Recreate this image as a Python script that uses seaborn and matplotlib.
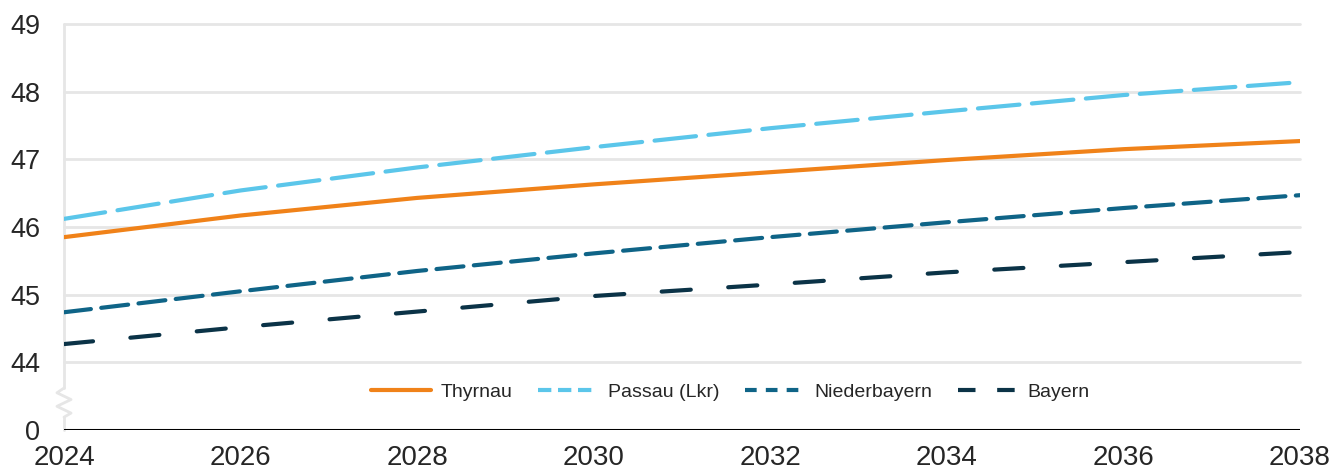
import matplotlib
matplotlib.use('Agg')
import matplotlib.pyplot as plt
import pandas as pd
import seaborn as sns
import numpy as np

# Data
years = [2024, 2026, 2028, 2030, 2032, 2034, 2036, 2038]
thyrnau = [45.85, 46.17, 46.43, 46.63, 46.81, 46.99, 47.15, 47.27]
passau = [46.12, 46.54, 46.88, 47.18, 47.46, 47.71, 47.95, 48.14]
niederbayern = [44.74, 45.05, 45.35, 45.61, 45.85, 46.07, 46.28, 46.47]
bayern = [44.27, 44.52, 44.75, 44.98, 45.15, 45.33, 45.48, 45.63]
series_names = ['Thyrnau', 'Passau (Lkr)', 'Niederbayern', 'Bayern']
ytick_labels = ['0', '44', '45', '46', '47', '48', '49']
xtick_labels = ['2024', '2026', '2028', '2030', '2032', '2034', '2036', '2038']

colors = {'Thyrnau': '#F08219', 'Passau (Lkr)': '#5BC6EA',
          'Niederbayern': '#0F6487', 'Bayern': '#0B3347'}
dashes = {'Thyrnau': '', 'Passau (Lkr)': (10, 3),
          'Niederbayern': (6.5, 2.5), 'Bayern': (7, 9)}
legend_dashes = {'Thyrnau': None, 'Passau (Lkr)': (3.2, 1.6),
                 'Niederbayern': (2.8, 2.2), 'Bayern': (4.2, 5.2)}

df = pd.DataFrame({
    'Jahr': years * 4,
    'Wert': thyrnau + passau + niederbayern + bayern,
    'Reihe': sum([[n] * len(years) for n in series_names], []),
})

sns.set_style('white')
plt.rcParams['font.family'] = ['Liberation Sans', 'DejaVu Sans']

fig = plt.figure(figsize=(13.35, 4.76), dpi=100)
ax = fig.add_axes([64 / 1335, 1 - 430 / 476, (1300 - 64) / 1335, (430 - 24) / 476])

# broken axis: 0 is drawn one unit below 44
ax.set_ylim(43, 49)
ax.set_xlim(2024, 2038)
for v in range(44, 50):
    ax.axhline(v, color='#e6e6e6', lw=2, zorder=0, clip_on=False)
ax.axhline(43, color='black', lw=2.2, zorder=3)

# left vertical line with zigzag break
ax.plot([2024, 2024], [49, 43.62], color='#e6e6e6', lw=2, zorder=0, clip_on=False)
zz_x = 2024 + np.array([0, -0.08, 0.08, -0.08, 0.08, 0])
zz_y = np.array([43.62, 43.55, 43.45, 43.35, 43.25, 43.19])
ax.plot(zz_x, zz_y, color='#e6e6e6', lw=2, zorder=0, clip_on=False)
ax.plot([2024, 2024], [43.19, 43], color='#e6e6e6', lw=2, zorder=0, clip_on=False)

sns.lineplot(data=df, x='Jahr', y='Wert', hue='Reihe', style='Reihe',
             palette=colors, dashes=dashes, hue_order=series_names,
             style_order=series_names, lw=3, ax=ax, legend=False, zorder=4)

for line in ax.get_lines()[-4:]:
    line.set_dash_capstyle('round')
    line.set_solid_capstyle('round')

for s in ax.spines.values():
    s.set_visible(False)

ax.set_yticks(range(43, 50))
ax.set_yticklabels(ytick_labels)
ax.set_xticks(range(2024, 2039), minor=True)
ax.set_xticks(range(2024, 2039, 2))
ax.set_xticklabels(xtick_labels)
ax.tick_params(axis='y', length=12, width=2, color='#e6e6e6', pad=5, labelsize=19.5)
ax.tick_params(axis='x', which='both', length=7, width=2, color='#e6e6e6', pad=4, labelsize=20)
ax.set_xlabel('')
ax.set_ylabel('')

handles = []
for n in series_names:
    h = plt.Line2D([], [], color=colors[n], lw=3)
    if legend_dashes[n]:
        h.set_dashes(legend_dashes[n])
    handles.append(h)
ax.legend(handles, series_names, ncol=4, frameon=False, loc='center',
          bbox_to_anchor=(0.539, 0.094), fontsize=14, handlelength=3.1,
          columnspacing=1.3, handletextpad=0.5)

fig.savefig('out.png', dpi=100)
